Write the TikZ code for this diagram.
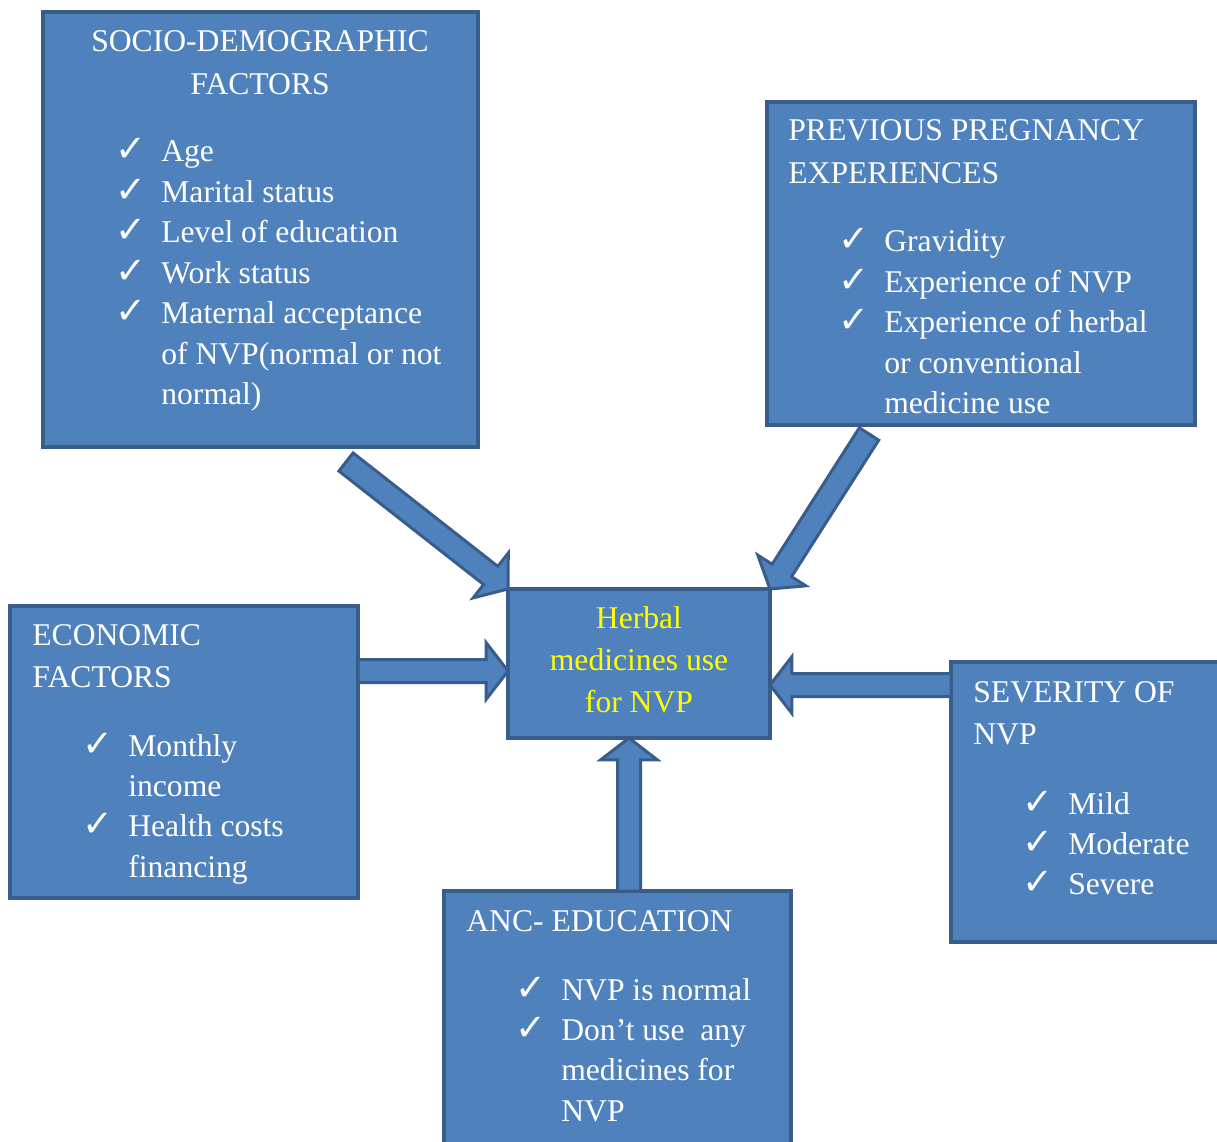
\documentclass[tikz,border=0pt]{standalone}
\usepackage{fontspec}
\usepackage{xcolor}
\setmainfont{Liberation Serif}
\newfontfamily\tickfont{DejaVu Sans}
\usetikzlibrary{calc}
\definecolor{boxblue}{RGB}{79, 129, 189}
\definecolor{edgeblue}{RGB}{56, 93, 138}
\definecolor{herbyellow}{RGB}{255, 255, 0}

\newcommand{\tick}{\makebox[0.92cm][l]{\tickfont\bfseries\fontsize{21}{23}\selectfont ✓}}
\newcommand{\cont}{\hspace*{0.92cm}}
\newcommand{\shafthalf}{0.23cm}
\newcommand{\headhalf}{0.57cm}
\newcommand{\headlen}{0.44cm}

\newcommand{\blockarrow}[2]{%
        \coordinate (hb) at ($(#2)!\headlen!(#1)$);
        \draw[arrowbody] ($(#1)!\shafthalf!90:(#2)$) -- ($(hb)!\shafthalf!90:(#2)$) -- ($(hb)!\headhalf!90:(#2)$) -- (#2)
            -- ($(hb)!\headhalf!-90:(#2)$) -- ($(hb)!\shafthalf!-90:(#2)$) -- ($(#1)!\shafthalf!-90:(#2)$) -- cycle;}

\tikzset{
    factorbox/.style={draw=edgeblue, fill=boxblue, line width=0.08cm, inner sep=0pt, outer sep=0pt},
    arrowbody/.style={draw=edgeblue, fill=boxblue, line width=0.06cm, line join=miter},
    boxtext/.style={text=white, inner sep=0pt, anchor=base west, font=\fontsize{18}{23}\selectfont},
    titletext/.style={boxtext, font=\fontsize{18}{24}\selectfont}
}

\begin{document}
\begin{tikzpicture}[x=0.02cm, y=-0.02cm]
        \useasboundingbox (0,0) rectangle (1217,1142);

        \node[factorbox, minimum width=8.70cm, minimum height=8.70cm] (socio) at (260.5,229.5) {};
        \node[factorbox, minimum width=8.56cm, minimum height=6.46cm] (prev) at (981,263.5) {};
        \node[factorbox, minimum width=6.96cm, minimum height=5.84cm] (econ) at (184,752) {};
        \node[factorbox, minimum width=5.24cm, minimum height=2.98cm] (herbal) at (639,663.5) {};
        \node[factorbox, minimum width=5.58cm, minimum height=5.60cm] (sever) at (1090.5,802) {};
        \node[factorbox, minimum width=6.94cm, minimum height=5.38cm] (anc) at (617.5,1025.5) {};

        \node[titletext, anchor=base] (socio-title) at (260,52) {\begin{tabular}[t]{@{}c@{}}SOCIO-DEMOGRAPHIC\\FACTORS\end{tabular}};
        \node[boxtext] (socio-list) at (115,162) {\begin{tabular}[t]{@{}l@{}}
            \tick Age\\ \tick Marital status\\ \tick Level of education\\ \tick Work status\\
            \tick Maternal acceptance\\ \cont of NVP(normal or not\\ \cont normal)\end{tabular}};

        \node[titletext] (prev-title) at (788,141) {\begin{tabular}[t]{@{}l@{}}PREVIOUS PREGNANCY\\EXPERIENCES\end{tabular}};
        \node[boxtext] (prev-list) at (838,252) {\begin{tabular}[t]{@{}l@{}}
            \tick Gravidity\\ \tick Experience of NVP\\ \tick Experience of herbal\\
            \cont or conventional\\ \cont medicine use\end{tabular}};

        \node[titletext] (econ-title) at (32,645) {\begin{tabular}[t]{@{}l@{}}ECONOMIC\\FACTORS\end{tabular}};
        \node[boxtext] (econ-list) at (82,756) {\begin{tabular}[t]{@{}l@{}}
            \tick Monthly\\ \cont income\\ \tick Health costs\\ \cont financing\end{tabular}};

        \node[titletext] (sever-title) at (973,702) {\begin{tabular}[t]{@{}l@{}}SEVERITY OF\\NVP\end{tabular}};
        \node[boxtext] (sever-list) at (1022,814) {\begin{tabular}[t]{@{}l@{}}
            \tick Mild\\ \tick Moderate\\ \tick Severe\end{tabular}};

        \node[titletext] (anc-title) at (466,931) {ANC- EDUCATION};
        \node[boxtext] (anc-list) at (515,1000) {\begin{tabular}[t]{@{}l@{}}
            \tick NVP is normal\\ \tick Don't use\ \ any\\ \cont medicines for\\ \cont NVP\end{tabular}};

        \node[titletext, anchor=base, text=herbyellow] (herbal-text) at (639,628) {\begin{tabular}[t]{@{}c@{}}Herbal\\medicines use\\for NVP\end{tabular}};

        \coordinate (socio-out) at (346,462);
        \coordinate (prev-out) at (869,434);
        \coordinate (econ-out) at (358,671);
        \coordinate (sever-out) at (951,685);
        \coordinate (anc-out) at (629,891);

        \blockarrow{socio-out}{herbal.north west}
        \blockarrow{prev-out}{herbal.north east}
        \blockarrow{econ-out}{herbal.west |- econ-out}
        \blockarrow{sever-out}{herbal.east |- sever-out}
        \blockarrow{anc-out}{herbal.south -| anc-out}
    \end{tikzpicture}
\end{document}
